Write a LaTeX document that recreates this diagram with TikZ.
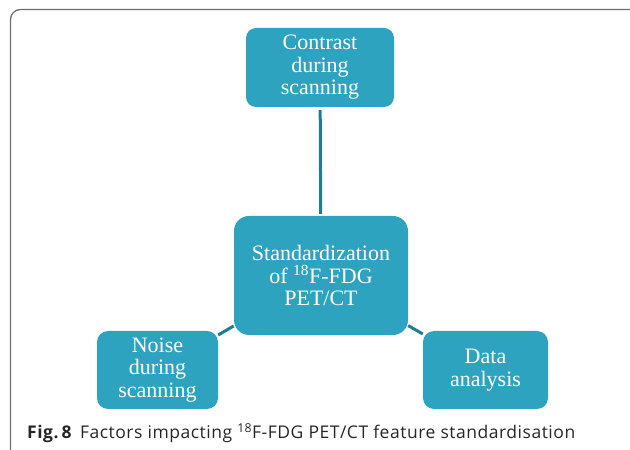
\documentclass[tikz,border=0pt]{standalone}
\usepackage{fontspec}
\setmainfont{Liberation Serif}
\newfontfamily\capfont[LetterSpace=3.0]{Open Sans}
\usetikzlibrary{positioning}
\definecolor{boxfill}{RGB}{46,163,191}
\definecolor{linkcol}{RGB}{31,125,143}
\definecolor{framecol}{RGB}{110,110,110}
\begin{document}
\begin{tikzpicture}[x=1pt,y=1pt,
  factor/.style={fill=boxfill, draw=none, text=white, align=center, inner sep=0pt,
    font=\fontsize{22}{22.5}\selectfont, rounded corners=11pt},
  link/.style={draw=linkcol, line width=3pt}]
\useasboundingbox (0,0) rectangle (630,450);
\draw[framecol, line width=1.3pt, rounded corners=10pt] (10.5,-2) -- (10.5,440.5) -- (640,440.5);
\node[factor, minimum width=148pt, minimum height=79pt, rounded corners=10pt] (contrast) at (320,382.5) {Contrast\\during\\scanning};
\node[factor, minimum width=174pt, minimum height=119pt, rounded corners=15pt] (center) at (321,174.5) {Standardization\\of \smash{\textsuperscript{18}}F-FDG\\PET/CT};
\node[factor, minimum width=121pt, minimum height=78pt] (noise) at (157.5,80) {Noise\\during\\scanning};
\node[factor, minimum width=125pt, minimum height=78pt] (data) at (485.5,80) {Data\\analysis};
\draw[link, shorten <=3pt, shorten >=2pt] (contrast) -- (center);
\draw[link] (center) -- (noise);
\draw[link] (center) -- (data);
\node[anchor=base west, inner sep=0pt, font=\capfont\fontsize{17.5}{20}\selectfont, text=black!85] (caption) at (27,11)
  {\textbf{Fig.\,8}\hspace{8pt}Factors impacting \textsuperscript{18}F-FDG PET/CT feature standardisation};
\end{tikzpicture}
\end{document}
